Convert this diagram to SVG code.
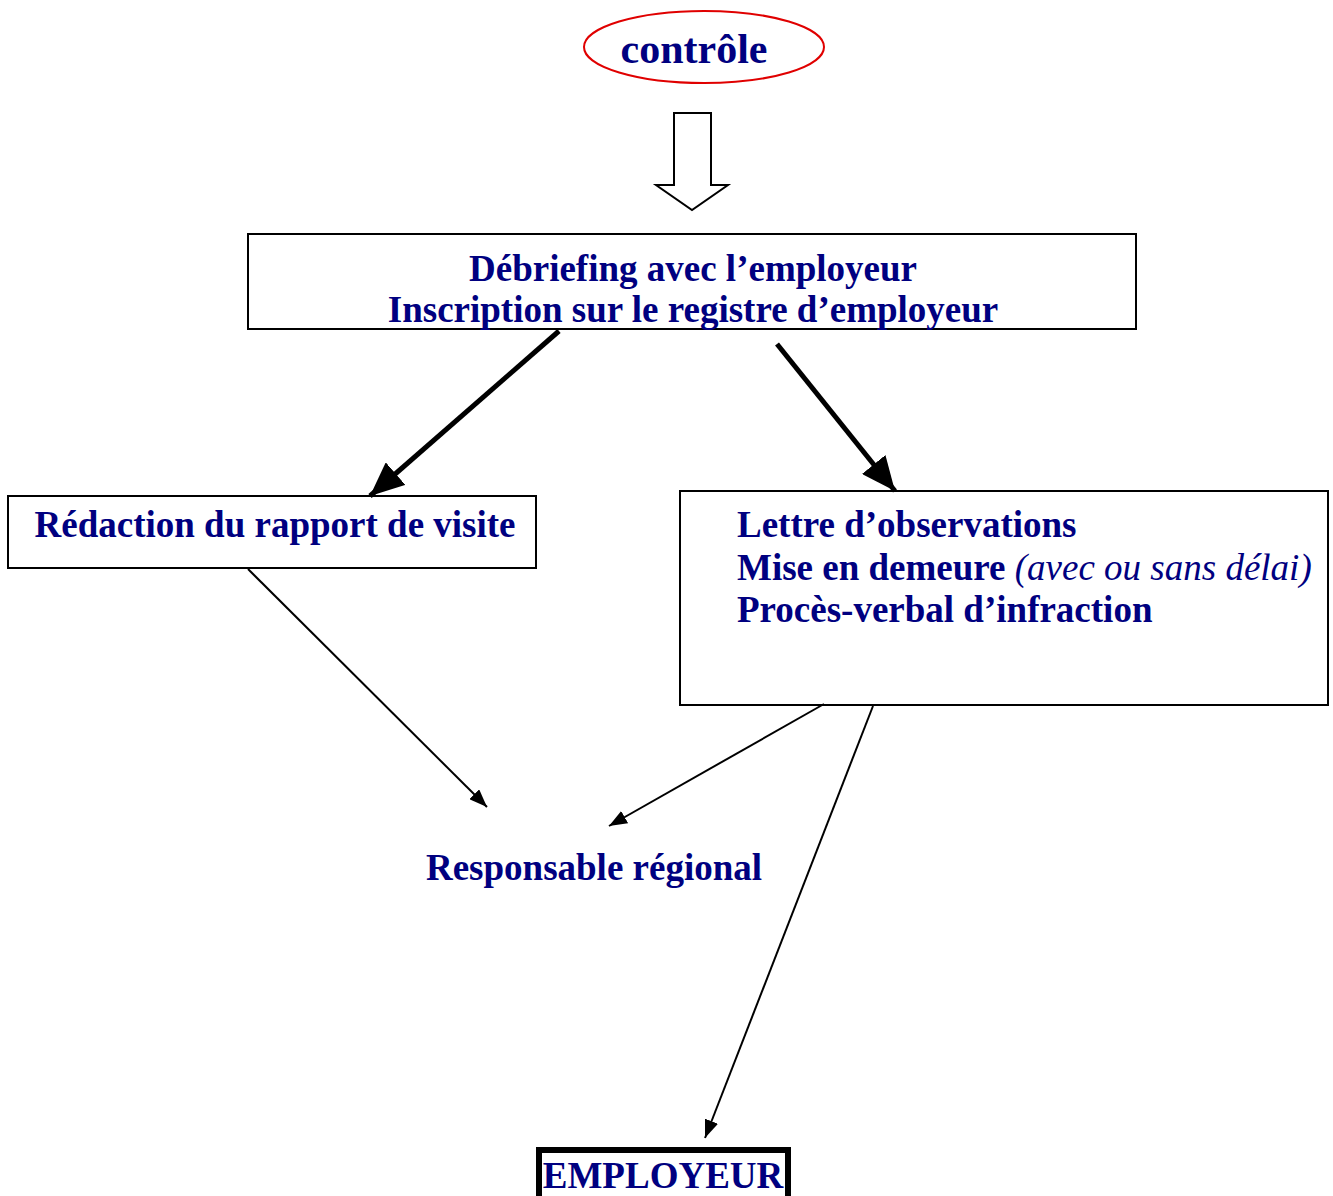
<svg xmlns="http://www.w3.org/2000/svg" width="1333" height="1196" viewBox="0 0 1333 1196">
<style>
.t{font-family:"Liberation Serif","Times New Roman",serif;font-weight:bold;font-size:37px;fill:#000080}
.i{font-weight:normal;font-style:italic}
.box{fill:#fff;stroke:#000;stroke-width:2}
.thick{stroke:#000;stroke-width:5;fill:none}
.thin{stroke:#000;stroke-width:2;fill:none}
</style>
<defs>
<marker id="big" markerUnits="userSpaceOnUse" markerWidth="34" markerHeight="30" viewBox="0 0 34 30" refX="34" refY="15" orient="auto"><path d="M0,0 L34,15 L0,30 z" fill="#000"/></marker>
<marker id="small" markerUnits="userSpaceOnUse" markerWidth="18" markerHeight="14" viewBox="0 0 18 14" refX="18" refY="7" orient="auto"><path d="M0,0 L18,7 L0,14 z" fill="#000"/></marker>
</defs>
<rect width="1333" height="1196" fill="#fff"/>
<g id="controle">
<ellipse cx="704" cy="47" rx="120" ry="36" fill="#fff" stroke="#e00000" stroke-width="2"/>
<text class="t" x="694" y="63" text-anchor="middle" style="font-size:42px">contrôle</text>
</g>
<g id="block-arrow">
<path d="M674,113 L711,113 L711,185 L728,185 L692,210 L656,185 L674,185 Z" fill="#fff" stroke="#000" stroke-width="2"/>
</g>
<g id="debriefing">
<rect class="box" x="248" y="234" width="888" height="95"/>
<text class="t" x="693" y="281" text-anchor="middle">Débriefing avec l’employeur</text>
<text class="t" x="693" y="322" text-anchor="middle">Inscription sur le registre d’employeur</text>
</g>
<g id="redaction">
<rect class="box" x="8" y="496" width="528" height="72"/>
<text class="t" x="275" y="537" text-anchor="middle">Rédaction du rapport de visite</text>
</g>
<g id="suites">
<rect class="box" x="680" y="491" width="648" height="214"/>
<text class="t" x="737" y="537">Lettre d’observations</text>
<text class="t" x="737" y="580">Mise en demeure <tspan class="i">(avec ou sans délai)</tspan></text>
<text class="t" x="737" y="622">Procès-verbal d’infraction</text>
</g>
<g id="responsable">
<text class="t" x="594" y="880" text-anchor="middle">Responsable régional</text>
</g>
<g id="employeur">
<rect x="539" y="1150" width="249" height="52" fill="#fff" stroke="#000" stroke-width="6"/>
<text class="t" x="663" y="1188" text-anchor="middle">EMPLOYEUR</text>
</g>
<g id="connectors">
<line class="thick" x1="559" y1="331" x2="370" y2="496" marker-end="url(#big)"/>
<line class="thick" x1="777" y1="344" x2="895" y2="491" marker-end="url(#big)"/>
<line class="thin" x1="248" y1="569" x2="487" y2="807" marker-end="url(#small)"/>
<line class="thin" x1="824" y1="704" x2="609" y2="826" marker-end="url(#small)"/>
<line class="thin" x1="873" y1="706" x2="705" y2="1138" marker-end="url(#small)"/>
</g>
</svg>
